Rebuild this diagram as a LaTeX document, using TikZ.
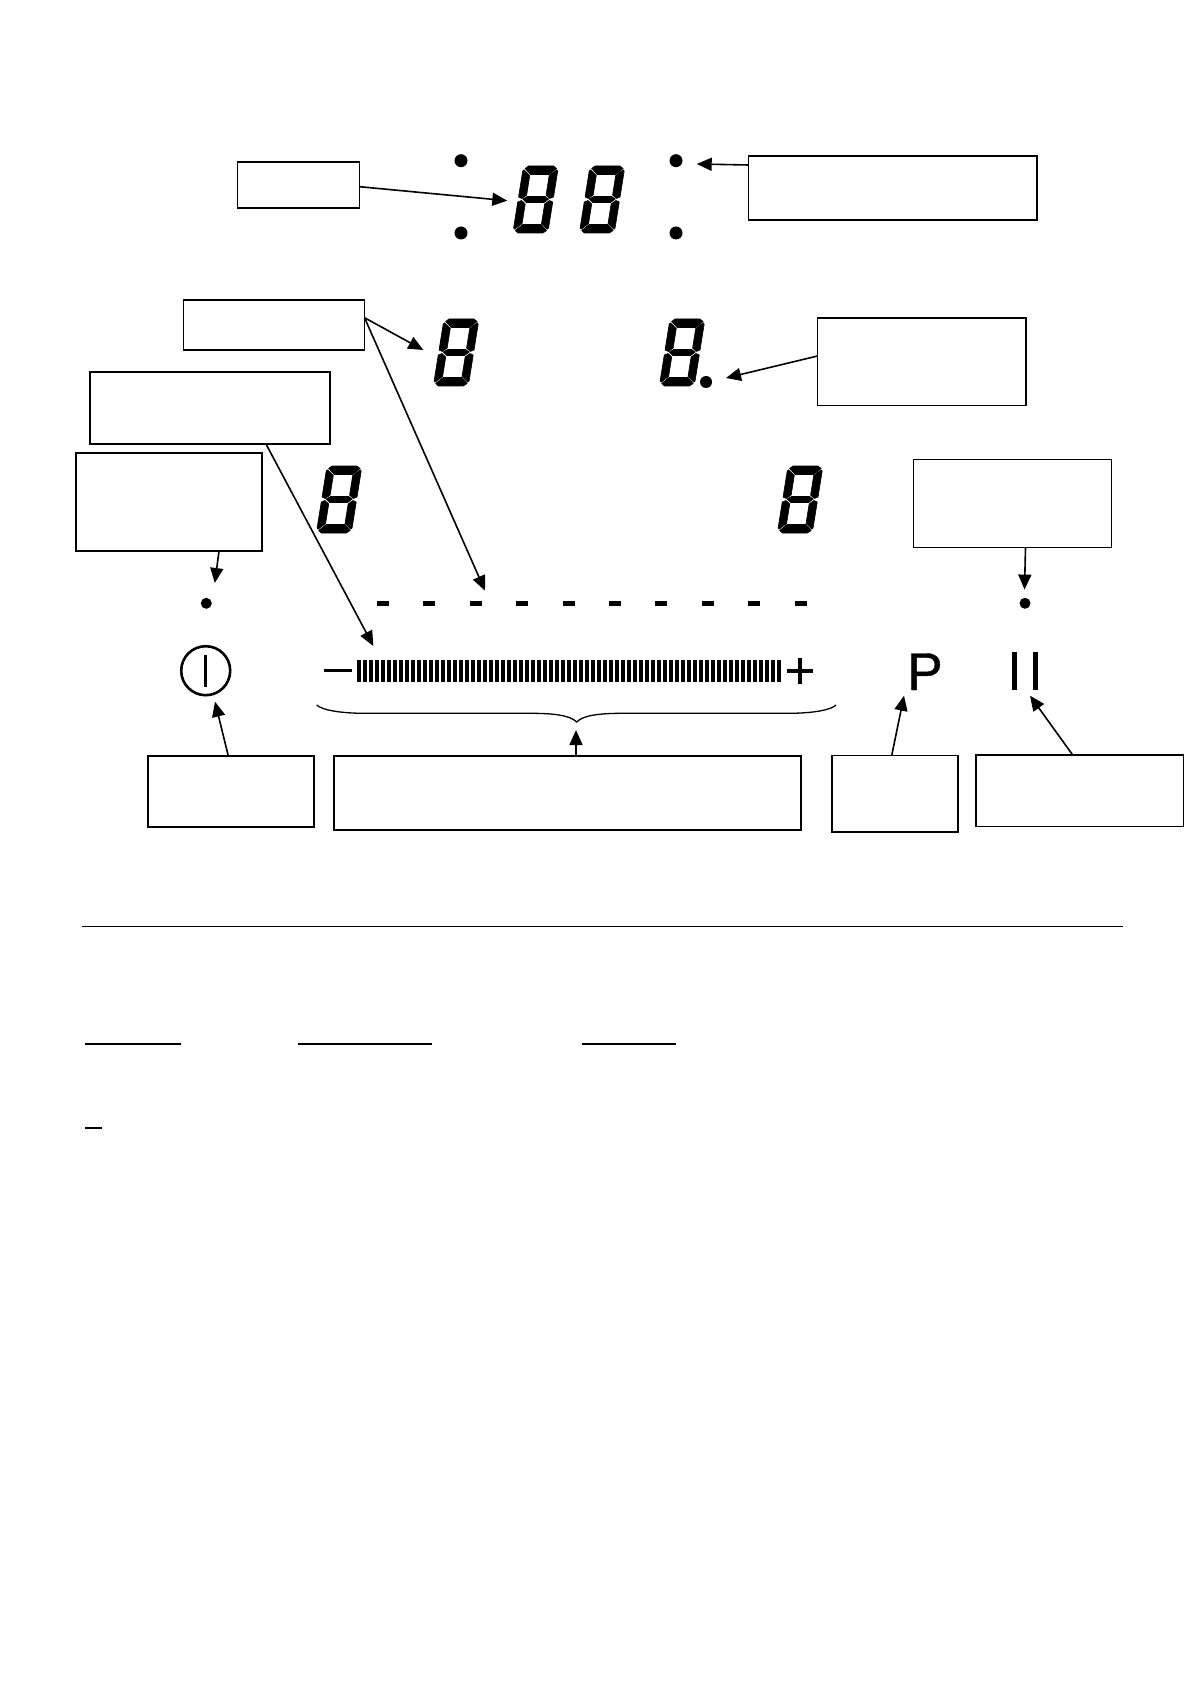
\documentclass[tikz,border=0pt]{standalone}
\usepackage{fontspec}
\setmainfont{Liberation Sans}
\newfontfamily\pfont[FakeBold=0.8]{Liberation Sans}
\usetikzlibrary{arrows.meta}
\tikzset{
  thinbox/.style={draw=black,fill=white,line width=0.6pt,inner sep=0pt,outer sep=0pt},
  thickbox/.style={draw=black,fill=white,line width=0.95pt,inner sep=0pt,outer sep=0pt},
  arr/.style={draw=black,line width=0.8pt,-{Triangle[length=7.5pt,width=6.5pt]}},
  rule/.style={draw=black,line width=0.6pt},
  uline/.style={draw=black,line width=1.15pt},
  seg/.style={fill=black,draw=black,line width=0.3pt,line join=round},
  pics/sevenseg/.style={code={
    \begin{scope}[xslant=0.16]
      \path[seg] (2,2.5)--(5,0)--(30,0)--(33.5,2.5)--(27,8.5)--(8.5,8.5)--cycle;
      \path[seg] (0,5)--(1.2,3.8)--(7.8,9.5)--(7.8,29)--(3.5,32.5)--(0,31)--cycle;
      \path[seg] (35,5)--(33.8,3.8)--(27.2,9.5)--(27.2,29)--(31.5,32.5)--(35,31)--cycle;
      \path[seg] (4.5,33)--(8.5,30.5)--(26.5,30.5)--(30.5,33)--(26.5,36.5)--(8.5,36.5)--cycle;
      \path[seg] (0,62)--(1.2,63.2)--(7.8,57.5)--(7.8,38)--(3.5,34.5)--(0,36)--cycle;
      \path[seg] (35,62)--(33.8,63.2)--(27.2,57.5)--(27.2,38)--(31.5,34.5)--(35,36)--cycle;
      \path[seg] (2,64.5)--(5,67)--(30,67)--(33.5,64.5)--(27,58.5)--(8.5,58.5)--cycle;
    \end{scope}
  }}
}
\newcommand{\boxn}[6]{%
  \pgfmathsetmacro{\bw}{(#5-#3)*0.5}\pgfmathsetmacro{\bh}{(#6-#4)*0.5}%
  \pgfmathsetmacro{\bcx}{(#3+#5)/2}\pgfmathsetmacro{\bcy}{(#4+#6)/2}%
  \node[#1,minimum width=\bw pt,minimum height=\bh pt] (#2) at (\bcx,\bcy) {};}
\newcommand{\leddot}[4]{\fill[black] (#2,#3) circle (#4); \coordinate (#1) at (#2,#3);}
\begin{document}
\begin{tikzpicture}[x=0.5pt,y=-0.5pt]
\useasboundingbox (0,0) rectangle (1191,1684);
\fill[white] (0,0) rectangle (1191,1684);
% boxes
\boxn{thickbox}{bA}{237.5}{162}{359.5}{208}
\boxn{thickbox}{bB}{748.5}{156}{1037}{220}
\boxn{thinbox}{bC}{183.5}{300}{364.5}{350}
\boxn{thinbox}{bD}{90}{372}{330}{444}
\boxn{thinbox}{bE}{76}{453}{262}{551}
\boxn{thinbox}{bF}{817.5}{318}{1026}{405.5}
\boxn{thinbox}{bG}{913.5}{459.5}{1111.5}{547.5}
\boxn{thickbox}{bH}{148}{756}{314}{827}
\boxn{thinbox}{bI}{334}{756}{801}{830}
\boxn{thickbox}{bJ}{832}{755.5}{958}{832}
\boxn{thinbox}{bK}{976}{755}{1183.5}{826.5}
% seven segment digits
\pic (dgA) at (523.5,166) {sevenseg};
\pic (dgB) at (590,166) {sevenseg};
\pic (dgC) at (444,319) {sevenseg};
\pic (dgD) at (670,319) {sevenseg};
\pic (dgE) at (327,466) {sevenseg};
\pic (dgF) at (788,466) {sevenseg};
% dots
\leddot{dA}{461}{160.7}{6.5}
\leddot{dB}{461}{233}{6.5}
\leddot{dC}{676}{160.7}{6.5}
\leddot{dD}{676}{233}{6.5}
\leddot{dE}{706}{382}{6}
\leddot{dF}{206.3}{603.3}{5.5}
\leddot{dG}{1025}{603.3}{5.5}
% dashes
\foreach \i in {0,...,9}{\fill[black] ({377+46.4*\i},600.7) rectangle ++(12,5);}
% slider
\draw[line width=1.5pt] (324,670.7) -- (352,670.7);
\foreach \i in {0,...,70}{\fill[black] ({356.7+6.0*\i},660) rectangle ++(4,21.5);}
\draw[line width=1.6pt] (787,671) -- (813,671) (800,658) -- (800,684);
% power symbol
\node[draw=black,circle,line width=1.3pt,minimum size=24.5pt,inner sep=0pt] (pw) at (205.7,670.7) {};
\draw[line width=1.6pt] (205.4,655) -- (205.4,687);
% P and pause
\node[font=\pfont\fontsize{26.5pt}{26.5pt}\selectfont,anchor=base,inner sep=0pt] (pk) at (925,690) {P};
\fill[black] (1012,652) rectangle (1016.5,690);
\fill[black] (1033,652) rectangle (1037.5,690);
% brace
\draw[line width=0.65pt] (316.7,705) .. controls (322,710) and (340,713.3) .. (365,713.3)
  -- (530,713.3) .. controls (552,713.3) and (570,715) .. (576.7,722)
  .. controls (583,715) and (601,713.3) .. (623,713.3)
  -- (788,713.3) .. controls (813,713.3) and (831,710) .. (836,705);
% arrow tips
\coordinate (tA) at (507.3,200.7);
\coordinate (tB) at (696.7,164);
\coordinate (tC) at (423.3,350);
\coordinate (tC2) at (485,590.7);
\coordinate (tF) at (726,378);
\coordinate (tD) at (373.3,646);
\coordinate (tE) at (214.8,583);
\coordinate (tG) at (1024.5,589.6);
\coordinate (tH) at (215,701.7);
\coordinate (tI) at (576,730);
\coordinate (tJ) at (904,695.7);
\coordinate (tK) at (1030,695.7);
% connectors
\draw[arr] (bA.east |- 0,186.7) -- (tA);
\draw[arr] (bB.west |- 0,165) -- (tB);
\draw[arr] (bC.east |- 0,317.7) -- (tC);
\draw[arr] (bC.east |- 0,317.7) -- (tC2);
\draw[arr] (bF.west |- 0,356) -- (tF);
\draw[arr] (bD.south west -| 266,0) -- (tD);
\draw[arr] (bE.south west -| 219,0) -- (tE);
\draw[arr] (bG.south west -| 1025.5,0) -- (tG);
\draw[arr] (bH.north west -| 228.3,0) -- (tH);
\draw[arr] (bI.north west -| 576,0) -- (tI);
\draw[arr] (bJ.north west -| 891.7,0) -- (tJ);
\draw[arr] (bK.north west -| 1072.7,0) -- (tK);
% rules
\draw[rule] (82,926.5) -- (1123,926.5);
\draw[uline] (85,1044) -- (180.5,1044);
\draw[uline] (298,1044) -- (432,1044);
\draw[uline] (582,1044) -- (676,1044);
\draw[uline] (85,1128) -- (102,1128);
\end{tikzpicture}
\end{document}
